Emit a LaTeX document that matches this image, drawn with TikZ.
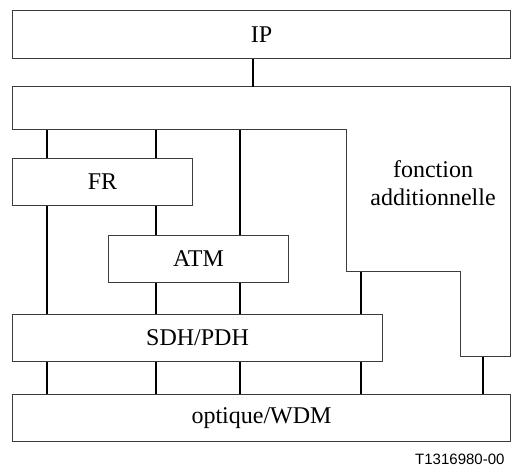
\documentclass[tikz,border=0pt]{standalone}
\usepackage{fontspec}
\setmainfont{Liberation Serif}
\setsansfont{Liberation Sans}
\usepackage{tikz}
\usetikzlibrary{positioning,calc}
\definecolor{edgegray}{RGB}{60,60,60}

\begin{document}
\begin{tikzpicture}[x=1pt, y=-1pt,
    font=\fontsize{24}{28}\selectfont,
    layerbox/.style={draw=edgegray, line width=1pt, inner sep=0pt, anchor=north west, align=center},
    link/.style={line width=1.6pt, black},
    extra/.style={draw=edgegray, line width=1pt}]

    \useasboundingbox (0,0) rectangle (511,470);

    \node[layerbox, minimum width=498pt, minimum height=48.5pt] (ip) at (12,10) {IP};
    \node[layerbox, minimum width=180pt, minimum height=47pt] (fr) at (12,158) {FR};
    \node[layerbox, minimum width=180pt, minimum height=46.7pt] (atm) at (108,235) {ATM};
    \node[layerbox, minimum width=370pt, minimum height=46.4pt] (sdh) at (12,314.3) {SDH/PDH};
    \node[layerbox, minimum width=498pt, minimum height=46.7pt] (wdm) at (12,394.3) {optique/WDM};

    % fonction additionnelle (forme en escalier)
    \draw[extra] (12,87) coordinate (fatop) -- (510,87) -- (510,356.7) coordinate (fastepB)
        -- (460.7,356.7) -- (460.7,271.7) -- (346.7,271.7) coordinate (fastepA)
        -- (346.7,130) -- (12,130) coordinate (fabot) -- cycle;
    \node[align=center] (fa) at (433,183) {fonction\\additionnelle};

    % colonnes des liaisons
    \coordinate (colA) at (47,0);
    \coordinate (colB) at (156,0);
    \coordinate (colC) at (240,0);
    \coordinate (colD) at (361,0);
    \coordinate (colE) at (483,0);
    \coordinate (colIP) at (253,0);

    \draw[link] (ip.south -| colIP) -- (fatop -| colIP);

    \draw[link] (fabot -| colA) -- (fr.north -| colA);
    \draw[link] (fabot -| colB) -- (fr.north -| colB);
    \draw[link] (fabot -| colC) -- (atm.north -| colC);
    \draw[link] (fastepA -| colD) -- (sdh.north -| colD);
    \draw[link] (fastepB -| colE) -- (wdm.north -| colE);

    \draw[link] (fr.south -| colA) -- (sdh.north -| colA);
    \draw[link] (fr.south -| colB) -- (atm.north -| colB);
    \draw[link] (atm.south -| colB) -- (sdh.north -| colB);
    \draw[link] (atm.south -| colC) -- (sdh.north -| colC);

    \draw[link] (sdh.south -| colA) -- (wdm.north -| colA);
    \draw[link] (sdh.south -| colB) -- (wdm.north -| colB);
    \draw[link] (sdh.south -| colC) -- (wdm.north -| colC);
    \draw[link] (sdh.south -| colD) -- (wdm.north -| colD);

    \node[font=\sffamily\fontsize{15}{18}\selectfont, anchor=east] (ref) at (508,459) {T1316980-00};
\end{tikzpicture}
\end{document}
